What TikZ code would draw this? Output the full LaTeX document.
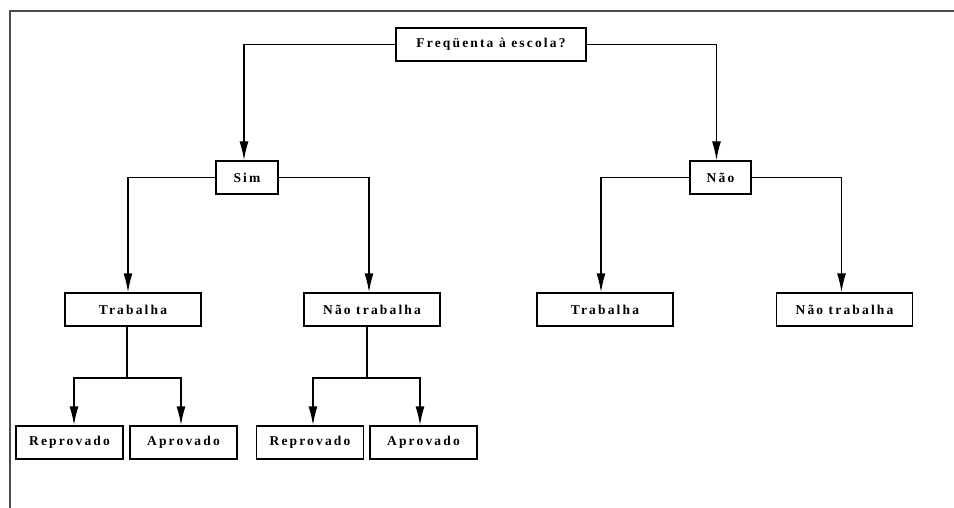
\documentclass[tikz,border=0pt]{standalone}
\usepackage{fontspec}
\newfontfamily\caixafont{Liberation Serif}[LetterSpace=16]
\usetikzlibrary{arrows.meta, calc}
\tikzset{
    caixa/.style = {draw, line width = 1.4pt, minimum height = 33pt, inner sep = 0pt,
        font = \caixafont\bfseries\fontsize{13.5}{15}\selectfont},
    liga/.style = {line width = 1.4pt},
    seta/.style = {liga, -{Latex[length = 19pt, width = 9pt]}}
}

\begin{document}
\begin{tikzpicture}[x = 1pt, y = -1pt]
    \useasboundingbox (0,0) rectangle (954,508);
    % Moldura
    \draw[gray!60!black, line width = 1.6pt] (954,11) -- (10,11) -- (10,508);
    % Raiz
    \node[caixa, minimum width = 190pt] (freq) at (491,44.5) {Freqüenta à escola?};
    % Primeiro nivel
    \node[caixa, minimum width = 62pt] (sim) at (247,177.5) {Sim};
    \node[caixa, minimum width = 61pt] (nao) at (720.5,177.5) {Não};
    % Segundo nivel
    \node[caixa, minimum width = 136pt] (trab1) at (133,309.5) {Trabalha};
    \node[caixa, minimum width = 136pt] (ntrab1) at (372,309.5) {Não trabalha};
    \node[caixa, minimum width = 136pt] (trab2) at (605,309.5) {Trabalha};
    \node[caixa, minimum width = 136pt] (ntrab2) at (844.5,309.5) {Não trabalha};
    % Terceiro nivel
    \node[caixa, minimum width = 107pt] (rep1) at (69.5,442.5) {Reprovado};
    \node[caixa, minimum width = 107pt] (apr1) at (183.5,442.5) {Aprovado};
    \node[caixa, minimum width = 107pt] (rep2) at (310,442.5) {Reprovado};
    \node[caixa, minimum width = 107pt] (apr2) at (423.5,442.5) {Aprovado};
    % Ligacoes
    \draw[seta] (freq.west) -| ([xshift = -3pt]sim.north);
    \draw[seta] (freq.east) -| ([xshift = -4pt]nao.north);
    \draw[seta] (sim.west) -| ([xshift = -5pt]trab1.north);
    \draw[seta] (sim.east) -| ([xshift = -3pt]ntrab1.north);
    \draw[seta] (nao.west) -| ([xshift = -4pt]trab2.north);
    \draw[seta] (nao.east) -| ([xshift = -3pt]ntrab2.north);
    % Bifurcacoes
    \coordinate (j1) at (127,378);
    \coordinate (j2) at (367,378);
    \draw[liga] (trab1.south -| j1) -- (j1);
    \draw[seta] (j1) -| ([xshift = 4.5pt]rep1.north);
    \draw[seta] (j1) -| ([xshift = -2.5pt]apr1.north);
    \draw[liga] (ntrab1.south -| j2) -- (j2);
    \draw[seta] (j2) -| ([xshift = 3pt]rep2.north);
    \draw[seta] (j2) -| ([xshift = -3.5pt]apr2.north);
\end{tikzpicture}
\end{document}
